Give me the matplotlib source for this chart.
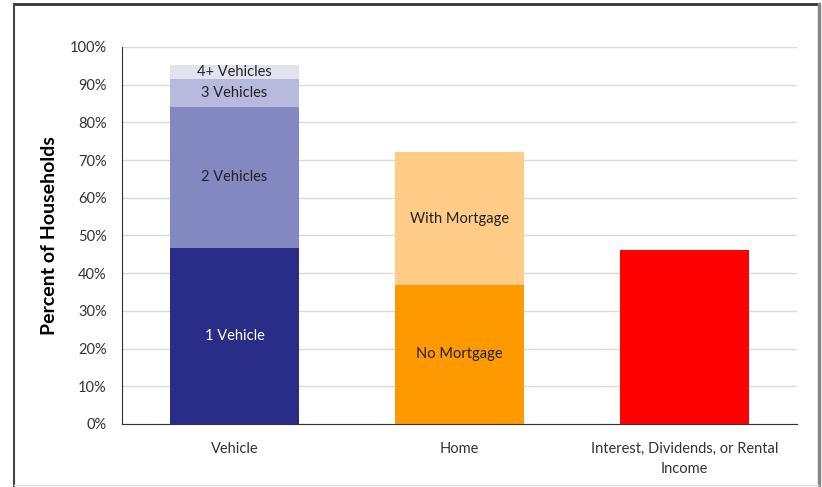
import numpy as np
import matplotlib
matplotlib.use("Agg")
import matplotlib.pyplot as plt
from matplotlib.lines import Line2D

plt.rcParams['font.family'] = ['Lato', 'DejaVu Sans']

categories = ['Vehicle', 'Home', 'Interest, Dividends, or Rental\nIncome']

# stacked segments (percent of households)
vehicle_labels = ['1 Vehicle', '2 Vehicles', '3 Vehicles', '4+ Vehicles']
vehicle_values = [46.7, 37.4, 7.4, 3.7]
vehicle_colors = ['#2a2d88', '#8488c0', '#b7b9de', '#e3e3f0']
vehicle_text = ['white', '#222222', '#222222', '#222222']

home_labels = ['No Mortgage', 'With Mortgage']
home_values = [36.9, 35.2]
home_colors = ['#ff9900', '#ffcc88']

income_value = 46.2
income_color = '#ff0000'

fig = plt.figure(figsize=(8.22, 4.87), dpi=100)
ax = fig.add_axes([0.1484, 0.1294, 0.8212, 0.7741])

x = np.arange(len(categories))
width = 0.57

bottom = 0
for lab, val, col, tc in zip(vehicle_labels, vehicle_values, vehicle_colors, vehicle_text):
    ax.bar(x[0], val, width, bottom=bottom, color=col, zorder=2)
    ax.text(x[0], bottom + val / 2, lab, ha='center', va='center', fontsize=10.5, color=tc, zorder=3)
    bottom += val

bottom = 0
for lab, val, col in zip(home_labels, home_values, home_colors):
    ax.bar(x[1], val, width, bottom=bottom, color=col, zorder=2)
    ax.text(x[1], bottom + val / 2, lab, ha='center', va='center', fontsize=10.5, color='#222222', zorder=3)
    bottom += val

ax.bar(x[2], income_value, width, color=income_color, zorder=2)

ax.set_xlim(-0.5, 2.5)
ax.set_ylim(0, 100)
ax.set_yticks(np.arange(0, 101, 10))
ax.yaxis.set_major_formatter(lambda v, _: f'{int(v)}%')
ax.set_xticks(x)
ax.set_xticklabels(categories, linespacing=1.5)
ax.tick_params(axis='both', length=0, labelsize=10.5, colors='#333333')
ax.tick_params(axis='y', pad=11)
ax.tick_params(axis='x', pad=13)
ax.grid(axis='y', color='#d9d9d9', linewidth=1, zorder=0)
for s in ['top', 'right']:
    ax.spines[s].set_visible(False)
ax.spines['left'].set_color('#333333')
ax.spines['bottom'].set_color('#333333')
ax.spines['left'].set_zorder(4)
ax.spines['bottom'].set_zorder(4)
ax.set_ylabel('Percent of Households', fontsize=14, fontweight='bold', labelpad=8)

# outer frame
W, H = 822, 487
fig.add_artist(Line2D([14 / W, 818 / W], [1 - 4 / H, 1 - 4 / H], color='#333333', lw=2))
fig.add_artist(Line2D([14 / W, 14 / W], [1 - 4 / H, 0], color='#444444', lw=1.5))
fig.add_artist(Line2D([819 / W, 819 / W], [1 - 4 / H, 0], color='#888888', lw=2.5))
fig.add_artist(Line2D([14 / W, 818 / W], [2 / H, 2 / H], color='#e0e0e0', lw=1))

fig.savefig('out.png', dpi=100)
